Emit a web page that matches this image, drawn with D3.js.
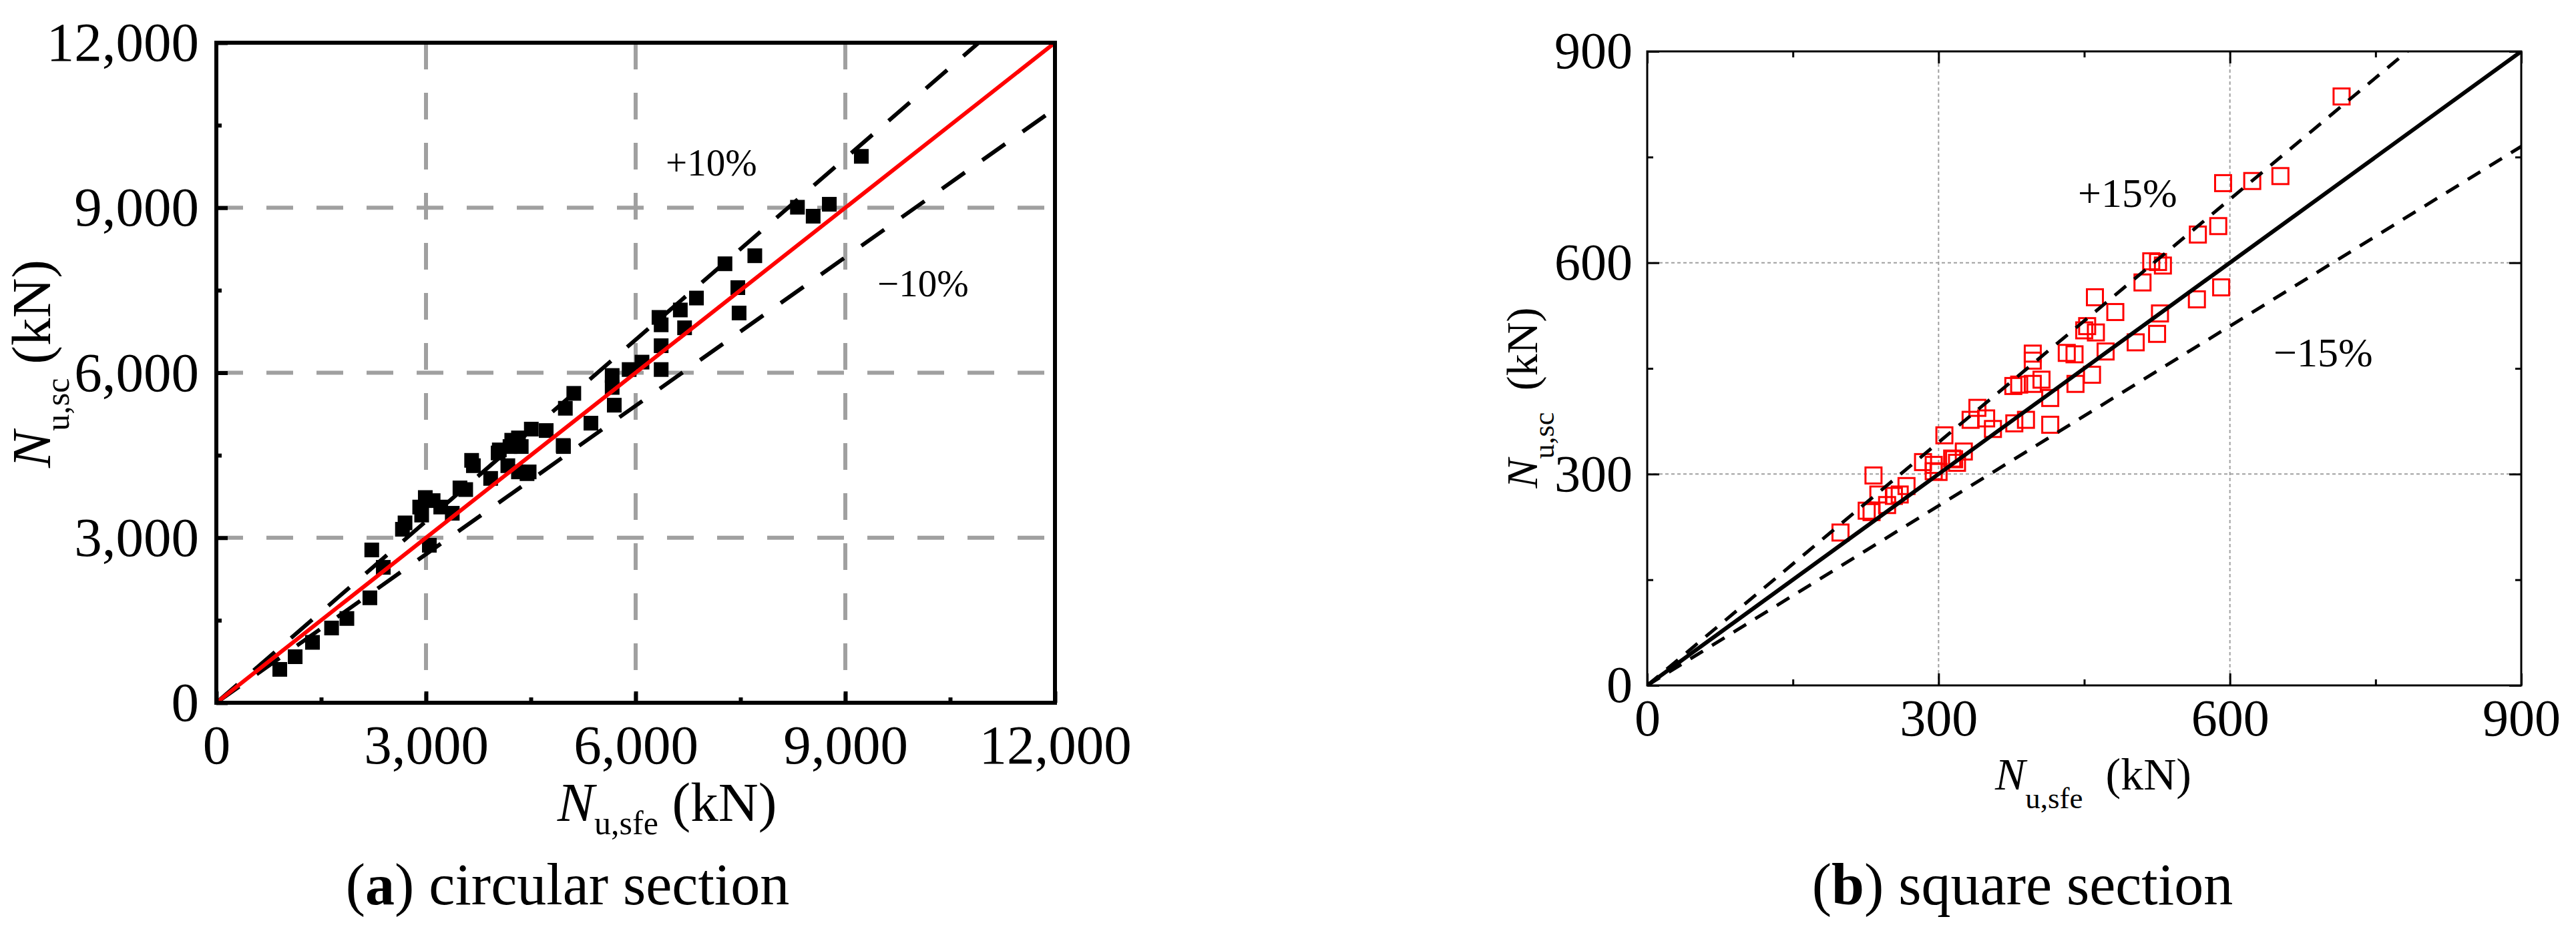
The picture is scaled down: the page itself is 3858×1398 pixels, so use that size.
<!DOCTYPE html>
<html><head><meta charset="utf-8">
<script src="https://cdn.jsdelivr.net/npm/d3@7"></script>
<style>
html,body{margin:0;padding:0;background:#fff;}
svg{display:block;}
text{font-family:"Liberation Serif","Times New Roman",serif;fill:#000;}
</style></head><body>
<svg id="chart" width="3858" height="1398"></svg>
<script>
// ---------- data ----------
// (a) circular section: N_u,sfe (x) vs N_u,sc (y), kN
const circSfe = [908,1128,1376,1649,1868,2197,2224,2389,2663,2700,2910,2938,2990,3048,3102,3211,3376,3486,3568,3653,3678,3925,4032,4049,4171,4202,4227,4323,4323,4363,4446,4476,4507,4720,4963,4967,4994,5115,5360,5664,5664,5694,5907,6091,6334,6365,6365,6365,6639,6700,6870,7278,7462,7480,7705,8315,8540,8771,9229];
const circSc  = [607,837,1098,1359,1532,1908,2778,2462,3154,3270,3558,3412,3731,2863,3675,3558,3445,3906,3876,4407,4310,4079,4541,4597,4310,4658,4773,4815,4197,4658,4165,4197,4975,4949,4677,4658,5354,5625,5083,5950,5733,5410,6058,6193,7006,6058,6491,6871,7141,6817,7358,7981,7547,7086,8127,9009,8846,9063,9934];
// (b) square section
const squareSfe = [199,226,231,233,238,247,254,260,267,284,295,295,300,306,314,316,319,326,333,340,349,356,377,378,383,390,397,397,397,406,415,415,432,440,441,450,453,458,461,462,472,482,503,510,519,525,526,528,531,566,567,588,591,593,623,652,715];
const squareSc  = [217,248,246,298,271,256,269,271,283,317,313,304,303,355,322,321,316,332,377,394,379,364,425,372,427,377,471,461,428,434,408,370,472,470,428,504,510,441,551,501,474,530,487,572,602,499,601,528,596,548,640,652,565,713,716,723,836];
const circTicks = [0,3000,6000,9000,12000];
const circMinor = [1500,4500,7500,10500];
const squareTicks = [0,300,600,900];
const squareMinor = [150,450,750];
const circRatios = [1.1, 0.9];
const squareRatios = [1.15, 0.85];
const circLabels = ["+10%","\u221210%"];
const squareLabels = ["+15%","\u221215%"];

// ---------- drawing ----------
const svg = d3.select("#chart");
svg.append("rect").attr("width",3858).attr("height",1398).attr("fill","#fff");
const defs = svg.append("defs");
const fmt = d3.format(",");

// ===== Panel (a) =====
const A = {x0:324,x1:1580,y0:1053,y1:64};
const xA = d3.scaleLinear().domain([0,12000]).range([A.x0,A.x1]);
const yA = d3.scaleLinear().domain([0,12000]).range([A.y0,A.y1]);
defs.append("clipPath").attr("id","clipA").append("rect")
  .attr("x",A.x0).attr("y",A.y1).attr("width",A.x1-A.x0).attr("height",A.y0-A.y1);
const gA = svg.append("g");
const inner = circTicks.slice(1,-1);
gA.append("g").selectAll("line").data(inner).join("line")
  .attr("x1",d=>xA(d)).attr("x2",d=>xA(d)).attr("y1",A.y1).attr("y2",A.y0)
  .attr("stroke","#a0a0a0").attr("stroke-width",6).attr("stroke-dasharray","40,35");
gA.append("g").selectAll("line").data(inner).join("line")
  .attr("y1",d=>yA(d)).attr("y2",d=>yA(d)).attr("x1",A.x0).attr("x2",A.x1)
  .attr("stroke","#a0a0a0").attr("stroke-width",6).attr("stroke-dasharray","40,35");

// markers
const ptsA = circSfe.map((v,i)=>[v,circSc[i]]);
gA.append("g").attr("clip-path","url(#clipA)").selectAll("rect").data(ptsA).join("rect")
  .attr("x",d=>xA(d[0])-11).attr("y",d=>yA(d[1])-11).attr("width",22).attr("height",22).attr("fill","#000");

// reference lines
const lineA = d3.line().x(d=>xA(d[0])).y(d=>yA(d[1]));
const gLinesA = gA.append("g").attr("clip-path","url(#clipA)");
circRatios.forEach(r=>{
  gLinesA.append("path").attr("d",lineA([[0,0],[12000,12000*r]]))
    .attr("fill","none").attr("stroke","#000").attr("stroke-width",6).attr("stroke-dasharray","42,32");
});
gLinesA.append("path").attr("d",lineA([[0,0],[12000,12000]]))
  .attr("fill","none").attr("stroke","#ff0000").attr("stroke-width",6);

// axes
function styleAxis(g, fs, sw){
  g.select(".domain").remove();
  g.attr("font-family",null).attr("font-size",fs);
  g.selectAll(".tick line").attr("stroke","#000").attr("stroke-width",sw);
  g.selectAll(".tick text").attr("fill","#000");
}
gA.append("g").attr("transform",`translate(0,${A.y0})`)
  .call(d3.axisBottom(xA).tickValues(circTicks).tickSizeInner(-17).tickSizeOuter(0).tickPadding(32).tickFormat(fmt))
  .call(g=>styleAxis(g,83,6));
gA.append("g").attr("transform",`translate(0,${A.y0})`)
  .call(d3.axisBottom(xA).tickValues(circMinor).tickSizeInner(-8).tickSizeOuter(0).tickFormat(""))
  .call(g=>styleAxis(g,83,6));
gA.append("g").attr("transform",`translate(${A.x0},0)`)
  .call(d3.axisLeft(yA).tickValues(circTicks).tickSizeInner(-17).tickSizeOuter(0).tickPadding(26).tickFormat(fmt))
  .call(g=>styleAxis(g,83,6));
gA.append("g").attr("transform",`translate(${A.x0},0)`)
  .call(d3.axisLeft(yA).tickValues(circMinor).tickSizeInner(-8).tickSizeOuter(0).tickFormat(""))
  .call(g=>styleAxis(g,83,6));
gA.append("rect").attr("x",A.x0).attr("y",A.y1).attr("width",A.x1-A.x0).attr("height",A.y0-A.y1)
  .attr("fill","none").attr("stroke","#000").attr("stroke-width",6);

// band labels
gA.append("text").attr("x",997).attr("y",263).attr("font-size",57).text(circLabels[0]);
gA.append("text").attr("x",1314).attr("y",444).attr("font-size",57).text(circLabels[1]);

// axis titles
const tx = gA.append("text").attr("x",999).attr("y",1230).attr("text-anchor","middle").attr("font-size",83);
tx.append("tspan").attr("font-style","italic").text("N");
tx.append("tspan").attr("font-size",50).attr("dy",20).text("u,sfe");
tx.append("tspan").attr("dy",-20).text(" (kN)");
const ty = gA.append("text").attr("transform","translate(75,545) rotate(-90)").attr("text-anchor","middle").attr("font-size",83);
ty.append("tspan").attr("font-style","italic").text("N");
ty.append("tspan").attr("font-size",50).attr("dy",28).text("u,sc");
ty.append("tspan").attr("dy",-28).text(" (kN)");
// caption
const ca = gA.append("text").attr("x",850).attr("y",1355).attr("text-anchor","middle").attr("font-size",88);
ca.append("tspan").text("(");
ca.append("tspan").attr("font-weight","bold").text("a");
ca.append("tspan").text(") circular section");

// ===== Panel (b) =====
const B = {x0:2467,x1:3776,y0:1027,y1:77};
const xB = d3.scaleLinear().domain([0,900]).range([B.x0,B.x1]);
const yB = d3.scaleLinear().domain([0,900]).range([B.y0,B.y1]);
defs.append("clipPath").attr("id","clipB").append("rect")
  .attr("x",B.x0).attr("y",B.y1).attr("width",B.x1-B.x0).attr("height",B.y0-B.y1);
const gB = svg.append("g");
const innerB = squareTicks.slice(1,-1);
gB.append("g").selectAll("line").data(innerB).join("line")
  .attr("x1",d=>xB(d)).attr("x2",d=>xB(d)).attr("y1",B.y1).attr("y2",B.y0)
  .attr("stroke","#a0a0a0").attr("stroke-width",2).attr("stroke-dasharray","5,4");
gB.append("g").selectAll("line").data(innerB).join("line")
  .attr("y1",d=>yB(d)).attr("y2",d=>yB(d)).attr("x1",B.x0).attr("x2",B.x1)
  .attr("stroke","#a0a0a0").attr("stroke-width",2).attr("stroke-dasharray","5,4");

const ptsB = squareSfe.map((v,i)=>[v,squareSc[i]]);
gB.append("g").attr("clip-path","url(#clipB)").selectAll("rect").data(ptsB).join("rect")
  .attr("x",d=>xB(d[0])-12).attr("y",d=>yB(d[1])-12).attr("width",24).attr("height",24)
  .attr("fill","none").attr("stroke","#ff0000").attr("stroke-width",3);

const lineB = d3.line().x(d=>xB(d[0])).y(d=>yB(d[1]));
const gLinesB = gB.append("g").attr("clip-path","url(#clipB)");
squareRatios.forEach(r=>{
  gLinesB.append("path").attr("d",lineB([[0,0],[900,900*r]]))
    .attr("fill","none").attr("stroke","#000").attr("stroke-width",5).attr("stroke-dasharray","22,16");
});
gLinesB.append("path").attr("d",lineB([[0,0],[900,900]]))
  .attr("fill","none").attr("stroke","#000").attr("stroke-width",6);

const sideAxes = [
  [d3.axisBottom, `translate(0,${B.y0})`, xB, true],
  [d3.axisTop, `translate(0,${B.y1})`, xB, false],
  [d3.axisLeft, `translate(${B.x0},0)`, yB, true],
  [d3.axisRight, `translate(${B.x1},0)`, yB, false]
];
sideAxes.forEach(([ax,tr,sc,lab])=>{
  const pad = (ax===d3.axisBottom)?20:22;
  gB.append("g").attr("transform",tr)
    .call(ax(sc).tickValues(squareTicks).tickSizeInner(-18).tickSizeOuter(0).tickPadding(pad).tickFormat(lab?d3.format("d"):""))
    .call(g=>styleAxis(g,78,3));
  gB.append("g").attr("transform",tr)
    .call(ax(sc).tickValues(squareMinor).tickSizeInner(-9).tickSizeOuter(0).tickFormat(""))
    .call(g=>styleAxis(g,78,3));
});
gB.append("rect").attr("x",B.x0).attr("y",B.y1).attr("width",B.x1-B.x0).attr("height",B.y0-B.y1)
  .attr("fill","none").attr("stroke","#000").attr("stroke-width",3);

gB.append("text").attr("x",3112).attr("y",310).attr("font-size",62).text(squareLabels[0]);
gB.append("text").attr("x",3405).attr("y",549).attr("font-size",62).text(squareLabels[1]);

const txB = gB.append("text").attr("x",3135).attr("y",1183).attr("text-anchor","middle").attr("font-size",68);
txB.append("tspan").attr("font-style","italic").text("N");
txB.append("tspan").attr("font-size",45).attr("dy",28).text("u,sfe");
txB.append("tspan").attr("dy",-28).attr("dx",17).text(" (kN)");
const tyB = gB.append("text").attr("transform","translate(2302,596) rotate(-90)").attr("text-anchor","middle").attr("font-size",66);
tyB.append("tspan").attr("font-style","italic").text("N");
tyB.append("tspan").attr("font-size",44).attr("dy",25).text("u,sc");
tyB.append("tspan").attr("dy",-25).attr("dx",16).text(" (kN)");
const cb = gB.append("text").attr("x",3029).attr("y",1355).attr("text-anchor","middle").attr("font-size",88);
cb.append("tspan").text("(");
cb.append("tspan").attr("font-weight","bold").text("b");
cb.append("tspan").text(") square section");
</script>
</body></html>
